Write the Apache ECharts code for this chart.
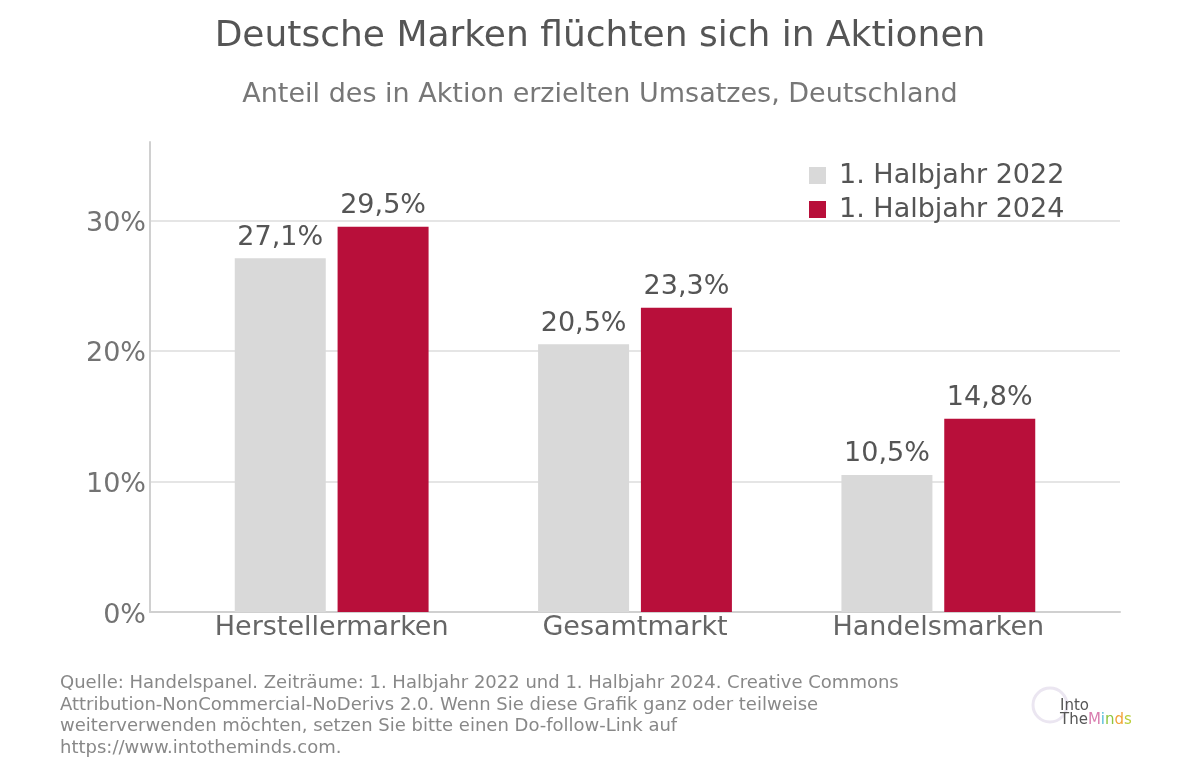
<!DOCTYPE html>
<html>
<head>
<meta charset="utf-8">
<script src="https://cdn.jsdelivr.net/npm/echarts@6/dist/echarts.min.js"></script>
<style>
  html, body { margin: 0; padding: 0; background: #fff; }
  #chart { width: 1200px; height: 776px; }
</style>
</head>
<body>
<div id="chart"></div>
<script>
// Daten
var kategorien = ['Herstellermarken', 'Gesamtmarkt', 'Handelsmarken'];
var werte2022 = [27.1, 20.5, 10.5];
var werte2024 = [29.5, 23.3, 14.8];
var serienNamen = ['1. Halbjahr 2022', '1. Halbjahr 2024'];
var yTicks = [0, 10, 20, 30];

var schrift = 'DejaVu Sans';
var chart = echarts.init(document.getElementById('chart'));

function fmtProzent(v) {
  return String(v).replace('.', ',') + '%';
}

var option = {
  backgroundColor: '#fff',
  textStyle: { fontFamily: schrift },
  title: [{
    text: 'Deutsche Marken flüchten sich in Aktionen',
    left: 'center', top: 14,
    textStyle: { fontFamily: schrift, fontSize: 36, fontWeight: 'normal', color: '#555' }
  }, {
    text: 'Anteil des in Aktion erzielten Umsatzes, Deutschland',
    left: 'center', top: 76,
    textStyle: { fontFamily: schrift, fontSize: 27, fontWeight: 'normal', color: '#777' }
  }],
  legend: {
    data: serienNamen,
    orient: 'vertical',
    left: 804, top: 157,
    itemWidth: 17, itemHeight: 17, itemGap: 7,
    icon: 'rect',
    textStyle: { fontFamily: schrift, fontSize: 27, color: '#555', padding: [0, 0, 0, 8] }
  },
  // grid 0: Achsen und Gitterlinien, grid 1: Balken
  grid: [
    { left: 150, right: 80, top: 142, bottom: 164, containLabel: false },
    { left: 180, width: 910, top: 142, bottom: 164, containLabel: false }
  ],
  xAxis: [{
    gridIndex: 0, type: 'value', min: 0, max: 1,
    axisLine: { show: true, lineStyle: { color: '#d0d0d0', width: 2 } },
    axisTick: { show: false }, axisLabel: { show: false }, splitLine: { show: false }
  }, {
    gridIndex: 1, type: 'category', data: kategorien,
    axisLine: { show: false }, axisTick: { show: false },
    axisLabel: { interval: 0, fontFamily: schrift, fontSize: 27, color: '#666', margin: 2 }
  }],
  yAxis: [{
    gridIndex: 0, type: 'value', min: 0, max: 36, interval: 10,
    axisLine: { show: true, lineStyle: { color: '#d0d0d0', width: 2 } },
    axisTick: { show: false },
    axisLabel: {
      margin: 4,
      formatter: function (v) { return yTicks.indexOf(v) >= 0 ? '{p|' + v + '%}' : ''; },
      rich: {
        p: { fontFamily: schrift, fontSize: 27, color: '#737373', lineHeight: 27, padding: [7, 0, 0, 0] }
      }
    },
    splitLine: { show: true, showMaxLine: false, lineStyle: { color: '#dcdcdc', width: 1.5 } }
  }, {
    gridIndex: 1, type: 'value', min: 0, max: 36,
    show: false, splitLine: { show: false }
  }],
  series: [{
    name: serienNamen[0], type: 'bar', xAxisIndex: 1, yAxisIndex: 1,
    data: werte2022, barWidth: 91, barGap: '13%',
    itemStyle: { color: '#d9d9d9' },
    label: {
      show: true, position: 'top', distance: 7,
      fontFamily: schrift, fontSize: 27, color: '#555',
      formatter: function (p) { return fmtProzent(p.value); }
    }
  }, {
    name: serienNamen[1], type: 'bar', xAxisIndex: 1, yAxisIndex: 1,
    data: werte2024, barWidth: 91, barGap: '13%',
    itemStyle: { color: '#b80f3a' },
    label: {
      show: true, position: 'top', distance: 7,
      fontFamily: schrift, fontSize: 27, color: '#555',
      formatter: function (p) { return fmtProzent(p.value); }
    }
  }],
  graphic: [{
    type: 'text', left: 60, top: 673,
    style: {
      text: 'Quelle: Handelspanel. Zeiträume: 1. Halbjahr 2022 und 1. Halbjahr 2024. Creative Commons\n' +
            'Attribution-NonCommercial-NoDerivs 2.0. Wenn Sie diese Grafik ganz oder teilweise\n' +
            'weiterverwenden möchten, setzen Sie bitte einen Do-follow-Link auf\n' +
            'https://www.intotheminds.com.',
      font: '18px "DejaVu Sans"', fill: '#888', lineHeight: 21.5
    }
  }, {
    type: 'circle', shape: { cx: 1050, cy: 705, r: 17 },
    style: { fill: 'none', stroke: '#ebe6f1', lineWidth: 3 }
  }, {
    type: 'text', left: 1060, top: 699,
    style: {
      text: '{d|Into}\n{d|The}{m|M}{i|i}{n|n}{o|d}{s|s}',
      lineHeight: 14,
      rich: {
        d: { fontSize: 15, fill: '#555', fontFamily: schrift },
        m: { fontSize: 15, fill: '#d97fb0', fontFamily: schrift },
        i: { fontSize: 15, fill: '#5bc0d8', fontFamily: schrift },
        n: { fontSize: 15, fill: '#8cc63f', fontFamily: schrift },
        o: { fontSize: 15, fill: '#f3a33b', fontFamily: schrift },
        s: { fontSize: 15, fill: '#b9cf3a', fontFamily: schrift }
      }
    }
  }]
};

chart.setOption(option);
</script>
</body>
</html>
